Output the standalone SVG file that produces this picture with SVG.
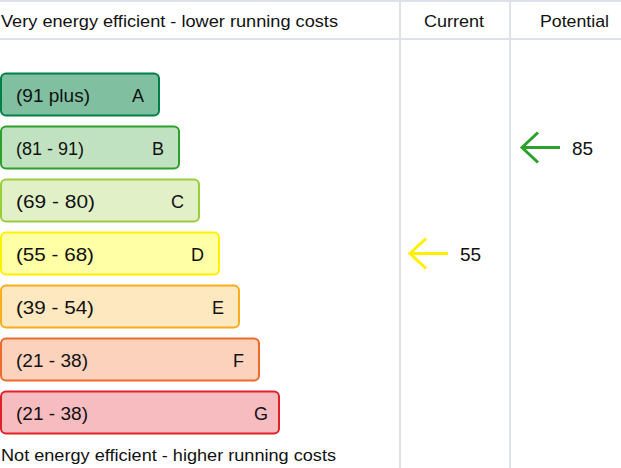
<svg xmlns="http://www.w3.org/2000/svg" width="621" height="468" viewBox="0 0 621 468">
<style>
text{font-family:"Liberation Sans","DejaVu Sans",sans-serif;fill:#111}
.hdr{font-size:16px}
.lbl{font-size:18px}
.num{font-size:19px}
.band{stroke-width:2}
.grid{stroke:#dfe1ea;stroke-width:2;fill:none}
.arr{fill:none;stroke-width:3}
</style>
<rect width="621" height="468" fill="#fff"/>
<g id="grid">
<line class="grid" x1="0" y1="1" x2="621" y2="1"/>
<line class="grid" x1="0" y1="39" x2="621" y2="39"/>
<line class="grid" x1="400" y1="0" x2="400" y2="468"/>
<line class="grid" x1="510" y1="0" x2="510" y2="468"/>
</g>
<g id="headers">
<text class="hdr" x="1" y="27" textLength="337" lengthAdjust="spacingAndGlyphs">Very energy efficient - lower running costs</text>
<text class="hdr" x="424" y="27" textLength="60" lengthAdjust="spacingAndGlyphs">Current</text>
<text class="hdr" x="540" y="27" textLength="69" lengthAdjust="spacingAndGlyphs">Potential</text>
</g>
<g id="band-A">
<rect class="band" x="1" y="73.5" width="158" height="42" rx="5" fill="#80bf9f" stroke="#008046"/>
<text class="lbl" x="16" y="102" textLength="74" lengthAdjust="spacingAndGlyphs">(91 plus)</text>
<text class="lbl" x="144" y="102" text-anchor="end">A</text>
</g>
<g id="band-B">
<rect class="band" x="1" y="126.5" width="178" height="42" rx="5" fill="#c1e2c1" stroke="#2ca02c"/>
<text class="lbl" x="16" y="155" textLength="68" lengthAdjust="spacingAndGlyphs">(81 - 91)</text>
<text class="lbl" x="164" y="155" text-anchor="end">B</text>
</g>
<g id="band-C">
<rect class="band" x="1" y="179.5" width="198" height="42" rx="5" fill="#e2f0c8" stroke="#9acd3c"/>
<text class="lbl" x="16" y="208" textLength="79" lengthAdjust="spacingAndGlyphs">(69 - 80)</text>
<text class="lbl" x="184" y="208" text-anchor="end">C</text>
</g>
<g id="band-D">
<rect class="band" x="1" y="232.5" width="218" height="42" rx="5" fill="#ffffa6" stroke="#fff000"/>
<text class="lbl" x="16" y="261" textLength="78" lengthAdjust="spacingAndGlyphs">(55 - 68)</text>
<text class="lbl" x="204" y="261" text-anchor="end">D</text>
</g>
<g id="band-E">
<rect class="band" x="1" y="285.5" width="238" height="42" rx="5" fill="#fde8c0" stroke="#f8ac1e"/>
<text class="lbl" x="16" y="314" textLength="78" lengthAdjust="spacingAndGlyphs">(39 - 54)</text>
<text class="lbl" x="224" y="314" text-anchor="end">E</text>
</g>
<g id="band-F">
<rect class="band" x="1" y="338.5" width="258" height="42" rx="5" fill="#fcd2bd" stroke="#ec6a2c"/>
<text class="lbl" x="16" y="367" textLength="72" lengthAdjust="spacingAndGlyphs">(21 - 38)</text>
<text class="lbl" x="244" y="367" text-anchor="end">F</text>
</g>
<g id="band-G">
<rect class="band" x="1" y="391.5" width="278" height="42" rx="5" fill="#f7bcbf" stroke="#e2202a"/>
<text class="lbl" x="16" y="420" textLength="72" lengthAdjust="spacingAndGlyphs">(21 - 38)</text>
<text class="lbl" x="268" y="420" text-anchor="end">G</text>
</g>
<g id="footer">
<text class="hdr" x="1" y="461" textLength="335" lengthAdjust="spacingAndGlyphs">Not energy efficient - higher running costs</text>
</g>
<g id="connectors">
<g id="current-arrow" stroke="#fff000" class="arr">
<line x1="448" y1="253.5" x2="411" y2="253.5"/>
<polyline points="426,238.5 410,253.5 426,268.5"/>
</g>
<g id="potential-arrow" stroke="#2ca02c" class="arr">
<line x1="560" y1="147.5" x2="523" y2="147.5"/>
<polyline points="538,132.5 522,147.5 538,162.5"/>
</g>
</g>
<g id="values">
<text class="num" x="460" y="261">55</text>
<text class="num" x="572" y="155">85</text>
</g>
</svg>
